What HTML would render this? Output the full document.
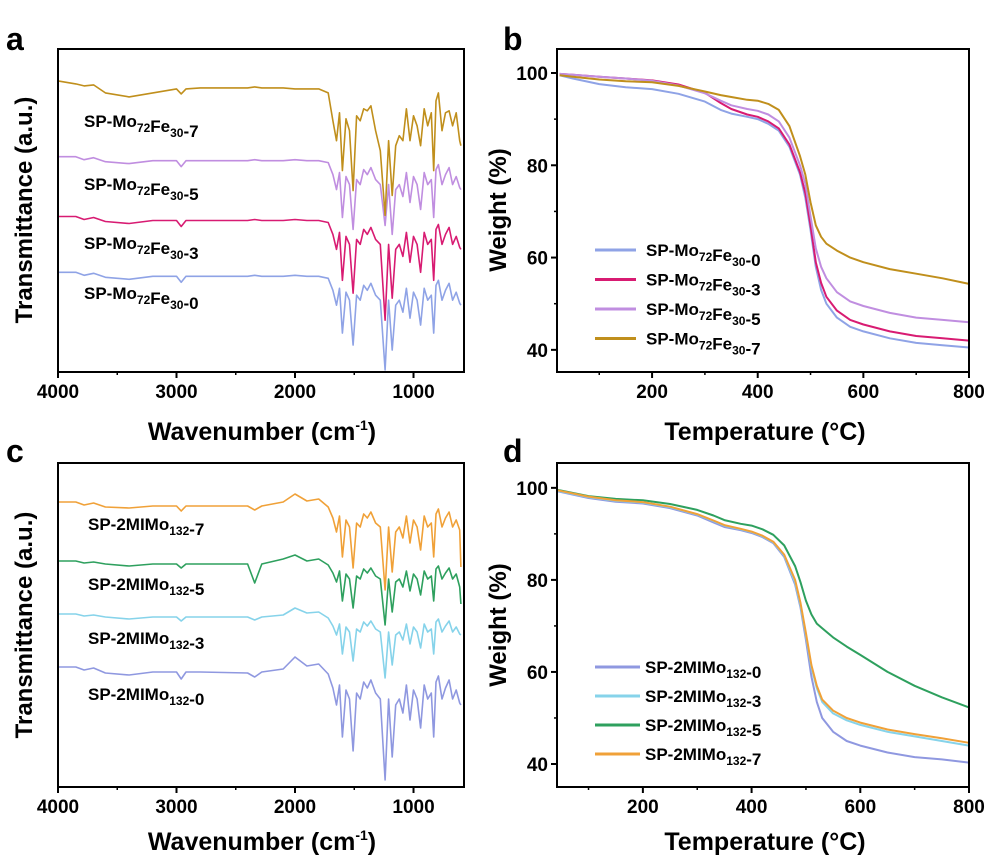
<!DOCTYPE html>
<html><head><meta charset="utf-8"><style>
html,body{margin:0;padding:0;background:#fff;}
svg{display:block;font-family:"Liberation Sans",Arial,sans-serif;font-weight:bold;}
</style></head><body>
<svg id="fig" width="991" height="865" viewBox="0 0 991 865" xmlns="http://www.w3.org/2000/svg"></svg>
<script>
// ---- FTIR data (shared wavenumber grid) ----
const irWavenumbers=[4000,3850,3780,3700,3600,3400,3200,3000,2960,2920,2800,2400,2340,2280,2100,2000,1900,1800,1720,1680,1650,1625,1600,1570,1540,1510,1480,1450,1420,1390,1360,1320,1280,1240,1210,1180,1150,1120,1090,1060,1030,1000,970,940,910,880,850,830,810,790,760,730,700,670,640,610,600];
const irTicks=[4000,3000,2000,1000];
const irMinorTicks=[3500,2500,1500];
const irA0=[100,100,97,99,95,93,96,96,90,96,96,96,97,96,96,97,96,96,94,82,67,84,39,80,72,27,77,72,87,82,89,77,72,2,72,22,67,72,60,84,54,80,72,47,84,72,77,39,87,92,72,82,89,72,80,69,67];
const irA3=[156,156,153,155,151,149,152,152,146,152,152,152,153,152,152,153,152,152,150,138,123,140,92,136,128,79,133,128,143,138,145,133,128,52,128,74,123,128,116,140,110,136,128,100,140,128,133,92,143,148,128,138,145,128,136,125,123];
const irA5=[216,216,213,215,211,209,212,212,206,212,212,212,213,212,212,213,212,212,210,198,183,200,155,196,188,143,193,188,203,198,205,193,188,147,188,138,183,188,176,200,170,196,188,163,200,188,193,155,203,208,188,198,205,188,196,185,183];
const irA7=[292,289,287,288,280,276,280,284,279,284,285,285,286,285,285,284,284,284,280,252,232,260,202,254,242,182,257,252,264,262,267,242,222,157,232,177,227,237,232,264,232,257,247,227,264,247,260,202,272,280,242,260,262,247,260,232,227];
const irC0=[120,120,117,119,114,112,115,115,108,115,115,114,110,115,118,130,121,123,113,99,82,102,50,97,88,36,94,88,105,99,107,94,88,7,88,30,82,88,74,102,67,97,88,59,102,88,94,50,105,111,88,99,107,88,97,84,82];
const irC3=[173,173,171,172,170,168,170,170,166,170,170,170,167,170,172,179,174,175,169,161,152,163,133,160,155,126,158,155,165,161,166,158,155,109,155,122,152,155,147,163,143,160,155,139,163,155,158,133,165,168,155,161,166,155,160,153,152];
const irC5=[226,226,224,225,223,221,223,223,219,223,223,223,204,223,228,232,226,228,222,214,205,216,186,213,208,179,211,208,218,214,219,211,208,162,208,175,205,208,200,216,196,213,208,192,216,208,211,186,218,221,208,214,219,208,213,200,183];
const irC7=[285,285,282,284,280,279,281,281,276,281,281,281,277,281,285,293,286,288,280,269,255,271,230,267,260,219,264,260,273,269,275,264,260,197,260,215,255,260,249,271,244,267,260,237,271,260,264,230,273,278,260,269,275,260,267,257,220];
// ---- TGA data ----
const tgaTempsB=[25,50,100,150,200,250,300,330,350,380,400,420,440,460,480,490,500,510,520,530,550,575,600,650,700,750,800];
const tgaB0=[99.5,98.8,97.6,96.9,96.5,95.5,93.8,92,91.2,90.5,90,89,87.5,84,78,73,66,58,53,50,47,45,44,42.5,41.5,41,40.5];
const tgaB3=[99.8,99.6,99.2,98.8,98.4,97.5,95.7,93.5,92.2,91,90.5,89.5,88,84.5,78.5,74,67,59,54.5,51.5,48.5,46.5,45.5,44,43,42.5,42];
const tgaB5=[99.8,99.6,99.2,98.8,98.3,97.3,95.6,94,93,92.2,91.8,91,89.5,86,80,76,69,62,58,55.5,52.5,50.5,49.5,48,47,46.5,46];
const tgaB7=[99.5,99.2,98.6,98.2,98,97.2,96,95.2,94.8,94.2,94,93.3,92,88.5,82,78,72,67,64.5,63,61.5,60,59,57.5,56.5,55.5,54.3];
const tgaTempsD=[42,100,150,200,250,300,330,350,380,400,420,440,460,480,490,500,510,520,530,550,575,600,650,700,750,800];
const tgaD0=[99.3,97.8,97,96.6,95.6,94,92.5,91.5,90.8,90.2,89.3,88,85,79,74,67,59,53.5,50,47,45,44,42.5,41.5,41,40.3];
const tgaD3=[99.4,98,97.2,96.8,95.8,94.2,92.8,91.8,91,90.4,89.5,88.2,85.3,79.5,74.5,68,61,56.5,53.5,51,49.5,48.5,47,46,45,44];
const tgaD5=[99.6,98.2,97.6,97.3,96.5,95.2,94,93,92.2,91.8,91,89.8,87.5,83,79.5,75.5,72.5,70.5,69.5,67.5,65.5,63.7,60,57,54.5,52.3];
const tgaD7=[99.5,98.1,97.3,96.9,95.9,94.3,92.9,91.9,91.1,90.5,89.6,88.3,85.5,80,75,68.5,61.5,57,54,51.6,50,49,47.5,46.5,45.6,44.6];
const tempTicks=[200,400,600,800];
const tempMinor=[100,300,500,700];
const wTicks=[40,60,80,100];
const wMinor=[50,70,90];

const NS="http://www.w3.org/2000/svg";
const svg=document.getElementById('fig');
function mk(tag,attrs,parent){const e=document.createElementNS(NS,tag);for(const k in attrs)e.setAttribute(k,attrs[k]);(parent||svg).appendChild(e);return e;}
function lin(d0,d1,r0,r1){return v=>r0+(v-d0)*(r1-r0)/(d1-d0);}

function panel(name,box,xd,yd){
  const g=mk('g',{});
  
  
  return {g,x:lin(xd[0],xd[1],box.l,box.r),y:lin(yd[0],yd[1],box.b,box.t),box};
}
function frame(p){
  const b=p.box;
  const r=mk('rect',{x:b.l,y:b.t,width:b.r-b.l,height:b.b-b.t,fill:'none',stroke:'#000','stroke-width':2},p.g);
  
  
}
function xticks(p,ticks,minor){
  const b=p.box;
  ticks.forEach(t=>{
    mk('line',{x1:p.x(t),x2:p.x(t),y1:b.b,y2:b.b+6,stroke:'#000','stroke-width':2},p.g);
    const tx=mk('text',{x:p.x(t),y:b.b+26,'text-anchor':'middle','font-size':19},p.g);
    tx.textContent=t;
    
    
  });
  minor.forEach(t=>mk('line',{x1:p.x(t),x2:p.x(t),y1:b.b,y2:b.b+3,stroke:'#000','stroke-width':1.5},p.g));
}
function yticks(p,ticks,minor){
  const b=p.box;
  ticks.forEach(t=>{
    mk('line',{x1:b.l-6,x2:b.l,y1:p.y(t),y2:p.y(t),stroke:'#000','stroke-width':2},p.g);
    const tx=mk('text',{x:b.l-9,y:p.y(t)+7,'text-anchor':'end','font-size':19},p.g);
    tx.textContent=t;
    
    
  });
  minor.forEach(t=>mk('line',{x1:b.l-3,x2:b.l,y1:p.y(t),y2:p.y(t),stroke:'#000','stroke-width':1.5},p.g));
}
function series(p,xs,ys,color,name,w){
  let d='';xs.forEach((x,i)=>{d+=(i?'L':'M')+p.x(x).toFixed(1)+' '+p.y(ys[i]).toFixed(1);});
  const path=mk('path',{d,fill:'none',stroke:color,'stroke-width':w||1.6,'stroke-linejoin':'round'},p.g);
  
  
}
function label(p,x,y,base,sub,suf,name,size){
  const t=mk('text',{x,y,'font-size':size||17},p.g);
  
  
  t.innerHTML=base.map((s,i)=>s+(sub[i]?'<tspan dy="5" font-size="12">'+sub[i]+'</tspan><tspan dy="-5"></tspan>':'')).join('')+suf;
}
function text(x,y,s,size,name,rot,anchor){
  const t=mk('text',{x,y,'font-size':size,'text-anchor':anchor||'middle'});
  if(rot)t.setAttribute('transform','rotate(-90 '+x+' '+y+')');
  t.innerHTML=s;
  
  
  return t;
}

// Panel a
const pa=panel('panel-a-ftir',{l:58,r:464,t:49,b:372},[4000,574],[0,324]);
series(pa,irWavenumbers,irA0,'#8fa3e6','series-a-0');
series(pa,irWavenumbers,irA3,'#d81b72','series-a-3');
series(pa,irWavenumbers,irA5,'#c08ee0','series-a-5');
series(pa,irWavenumbers,irA7,'#c08f1c','series-a-7');
frame(pa);xticks(pa,irTicks,irMinorTicks);
label(pa,84,127,['SP-Mo','Fe'],['72','30'],'-7','label-a-7');
label(pa,84,190,['SP-Mo','Fe'],['72','30'],'-5','label-a-5');
label(pa,84,249,['SP-Mo','Fe'],['72','30'],'-3','label-a-3');
label(pa,84,299,['SP-Mo','Fe'],['72','30'],'-0','label-a-0');

// Panel b
const pb=panel('panel-b-tga',{l:557,r:969,t:49,b:372},[20,800],[35.2,105.2]);
series(pb,tgaTempsB,tgaB0,'#8fa3e6','series-b-0',2);
series(pb,tgaTempsB,tgaB3,'#d81b72','series-b-3',2);
series(pb,tgaTempsB,tgaB5,'#c08ee0','series-b-5',2);
series(pb,tgaTempsB,tgaB7,'#c08f1c','series-b-7',2);
frame(pb);xticks(pb,tempTicks,tempMinor);yticks(pb,wTicks,wMinor);
[['#8fa3e6','-0'],['#d81b72','-3'],['#c08ee0','-5'],['#c08f1c','-7']].forEach((e,i)=>{
  const y=250+i*29.5;
  const l=mk('line',{x1:595,x2:636,y1:y,y2:y,stroke:e[0],'stroke-width':3},pb.g);
  
  
  label(pb,646,y+6,['SP-Mo','Fe'],['72','30'],e[1],'legend-entry-b'+e[1]);
});

// Panel c
const pc=panel('panel-c-ftir',{l:58,r:464,t:463,b:787},[4000,574],[0,324]);
series(pc,irWavenumbers,irC0,'#8f98e0','series-c-0');
series(pc,irWavenumbers,irC3,'#86d3ea','series-c-3');
series(pc,irWavenumbers,irC5,'#2ea05e','series-c-5');
series(pc,irWavenumbers,irC7,'#f0a138','series-c-7');
frame(pc);xticks(pc,irTicks,irMinorTicks);
label(pc,88,530,['SP-2MIMo'],['132'],'-7','label-c-7');
label(pc,88,590,['SP-2MIMo'],['132'],'-5','label-c-5');
label(pc,88,644,['SP-2MIMo'],['132'],'-3','label-c-3');
label(pc,88,700,['SP-2MIMo'],['132'],'-0','label-c-0');

// Panel d
const pd=panel('panel-d-tga',{l:557,r:969,t:463,b:787},[42,800],[35.0,105.4]);
series(pd,tgaTempsD,tgaD0,'#8f98e0','series-d-0',2);
series(pd,tgaTempsD,tgaD3,'#86d3ea','series-d-3',2);
series(pd,tgaTempsD,tgaD5,'#2ea05e','series-d-5',2);
series(pd,tgaTempsD,tgaD7,'#f0a138','series-d-7',2);
frame(pd);xticks(pd,tempTicks,tempMinor);yticks(pd,wTicks,wMinor);
[['#8f98e0','-0'],['#86d3ea','-3'],['#2ea05e','-5'],['#f0a138','-7']].forEach((e,i)=>{
  const y=667+i*29;
  const l=mk('line',{x1:595,x2:640,y1:y,y2:y,stroke:e[0],'stroke-width':3},pd.g);
  
  
  label(pd,645,y+6,['SP-2MIMo'],['132'],e[1],'legend-entry-d'+e[1]);
});

// Axis titles & panel letters
text(32,210,'Transmittance (a.u.)',24,'y-axis-title-a',true);
text(32,625,'Transmittance (a.u.)',24,'y-axis-title-c',true);
text(506,210,'Weight (%)',24,'y-axis-title-b',true);
text(506,625,'Weight (%)',24,'y-axis-title-d',true);
text(262,440,'Wavenumber (cm<tspan dy="-10" font-size="14">-1</tspan><tspan dy="10">)</tspan>',25,'x-axis-title-a');
text(262,850,'Wavenumber (cm<tspan dy="-10" font-size="14">-1</tspan><tspan dy="10">)</tspan>',25,'x-axis-title-c');
text(765,440,'Temperature (°C)',25,'x-axis-title-b');
text(765,850,'Temperature (°C)',25,'x-axis-title-d');
text(6,50,'a',32,'panel-letter-a',false,'start');
text(503,50,'b',32,'panel-letter-b',false,'start');
text(6,462,'c',32,'panel-letter-c',false,'start');
text(503,462,'d',32,'panel-letter-d',false,'start');
</script>
</body></html>
